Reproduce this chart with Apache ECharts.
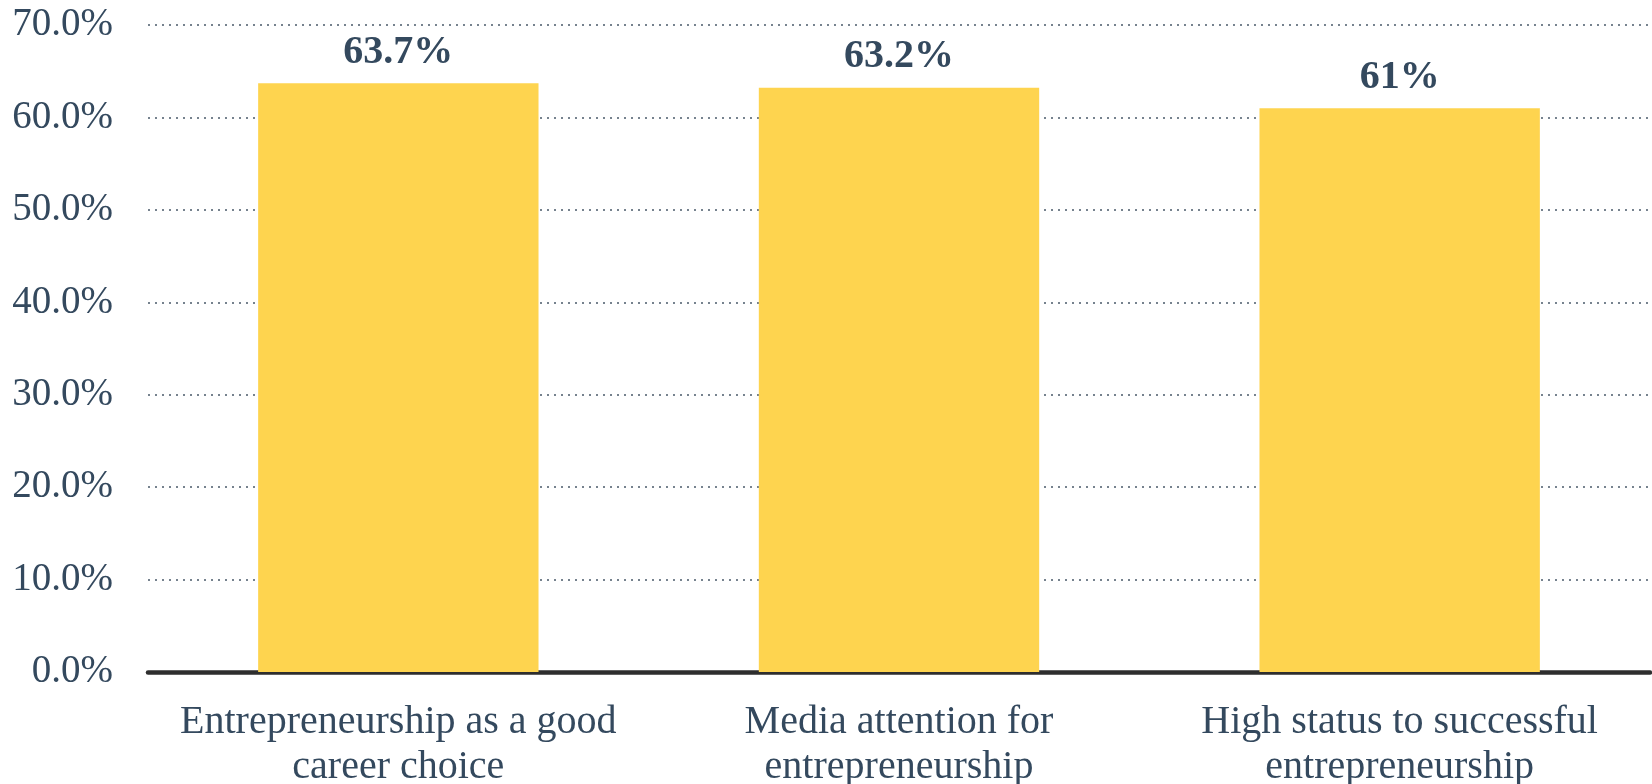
<!DOCTYPE html>
<html><head><meta charset="utf-8">
<script src="https://cdn.jsdelivr.net/npm/echarts@6/dist/echarts.min.js"></script>
<style>html,body{margin:0;padding:0;background:#fff}#c{width:1652px;height:784px}</style>
</head><body><div id="c"></div>
<script>
var categories = ["Entrepreneurship as a good\ncareer choice", "Media attention for\nentrepreneurship", "High status to successful\nentrepreneurship"];
var values = [63.7, 63.2, 61];
var yTicks = {min: 0, max: 70, interval: 10};

var chart = echarts.init(document.getElementById('c'));
var txt = '#34495e';
chart.setOption({
  backgroundColor: '#ffffff',
  animation: false,
  grid: {left: 148, right: 2, top: 25, bottom: 112, containLabel: false, outerBoundsMode: 'none'},
  xAxis: {
    type: 'category', data: categories,
    axisLine: {lineStyle: {color: '#2e2e2e', width: 4.5}},
    axisTick: {show: false},
    axisLabel: {color: txt, fontFamily: 'Liberation Serif', fontSize: 40, lineHeight: 45, margin: 28, interval: 0}
  },
  yAxis: {
    type: 'value', min: yTicks.min, max: yTicks.max, interval: yTicks.interval,
    axisLine: {show: false}, axisTick: {show: false},
    axisLabel: {color: txt, fontFamily: 'Liberation Serif', fontSize: 39, margin: 35,
      formatter: function (v) { return v.toFixed(1) + '%'; }},
    splitLine: {lineStyle: {color: '#4a5a6a', type: [2, 5], width: 1.5}}
  },
  series: [{
    type: 'bar', data: values, barWidth: '56%',
    itemStyle: {color: '#fed44f'},
    label: {show: true, position: 'top', distance: 11, color: txt, fontFamily: 'Liberation Serif',
      fontWeight: 'bold', fontSize: 40, formatter: function (p) { return p.value + '%'; }}
  }]
});
</script></body></html>
